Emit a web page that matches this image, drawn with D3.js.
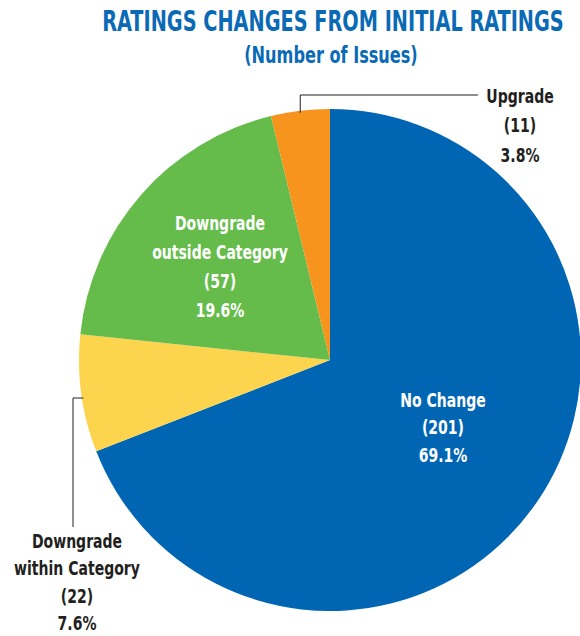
<!DOCTYPE html>
<html>
<head>
<meta charset="utf-8">
<script src="https://cdn.jsdelivr.net/npm/d3@7"></script>
<style>
  body { margin: 0; background: #fff; }
  text { font-family: "DejaVu Sans Condensed", "DejaVu Sans", sans-serif; font-weight: bold; }
</style>
</head>
<body>
<div id="chart"></div>
<script>
var categories = ["No Change", "Downgrade within Category", "Downgrade outside Category", "Upgrade"];
var counts = [201, 22, 57, 11];
var percents = ["69.1%", "7.6%", "19.6%", "3.8%"];
var colors = ["#0066b3", "#fdd44e", "#65bc4b", "#f7941d"];

(function() {
  var width = 580,
    height = 636;

  var svg = d3.select("#chart")
    .append("svg")
    .attr("width", width)
    .attr("height", height);

  var cx = 330, cy = 360, r = 251;

  var data = categories.map(function(c, i) {
    return { name: c, count: counts[i], pct: percents[i], color: colors[i] };
  });

  var pie = d3.pie().sort(null).value(function(d) { return d.count; });
  var arc = d3.arc().innerRadius(0).outerRadius(r);
  var arcs = pie(data);

  var g = svg.append("g").attr("transform", "translate(" + cx + "," + cy + ")");

  g.selectAll(".slice")
    .data(arcs)
    .enter().append("path")
    .attr("class", "slice")
    .attr("d", arc)
    .attr("fill", function(d) { return d.data.color; });

  // leader lines
  function edgePoint(a) {
    var mid = (a.startAngle + a.endAngle) / 2;
    return [cx + Math.sin(mid) * r, cy - Math.cos(mid) * r];
  }
  var up = edgePoint(arcs[3]);
  svg.append("path")
    .attr("d", "M" + up[0] + "," + (up[1] + 2) + "V95H478")
    .attr("fill", "none")
    .attr("stroke", "#231f20")
    .attr("stroke-width", 1);

  var dw = edgePoint(arcs[1]);
  svg.append("path")
    .attr("d", "M" + (dw[0] + 2) + "," + (cy + 38) + "H73V527")
    .attr("fill", "none")
    .attr("stroke", "#231f20")
    .attr("stroke-width", 1);

  // the original uses a condensed bold face, so squeeze text horizontally
  var sx = 0.78;
  var tg = svg.append("g").attr("transform", "scale(" + sx + ",1)");

  function block(lines, x, y, fill, size, lh) {
    var t = tg.append("text")
      .attr("text-anchor", "middle")
      .attr("fill", fill)
      .style("font-size", size + "px");
    lines.forEach(function(l, i) {
      t.append("tspan").attr("x", x / sx).attr("y", y + i * lh).text(l);
    });
  }

  block(["RATINGS CHANGES FROM INITIAL RATINGS"], 333, 31, "#0a6ab5", 27.5, 0);
  block(["(Number of Issues)"], 331, 63, "#0a6ab5", 23, 0);

  block(["No Change", "(" + counts[0] + ")", percents[0]], 443, 407, "#fff", 20, 27.5);
  block(["Downgrade", "outside Category", "(" + counts[2] + ")", percents[2]], 220, 230, "#fff", 20, 29);
  block(["Upgrade", "(" + counts[3] + ")", percents[3]], 520, 103, "#231f20", 20, 29.5);
  block(["Downgrade", "within Category", "(" + counts[1] + ")", percents[1]], 77, 548, "#231f20", 20, 27.3);
})();
</script>
</body>
</html>
